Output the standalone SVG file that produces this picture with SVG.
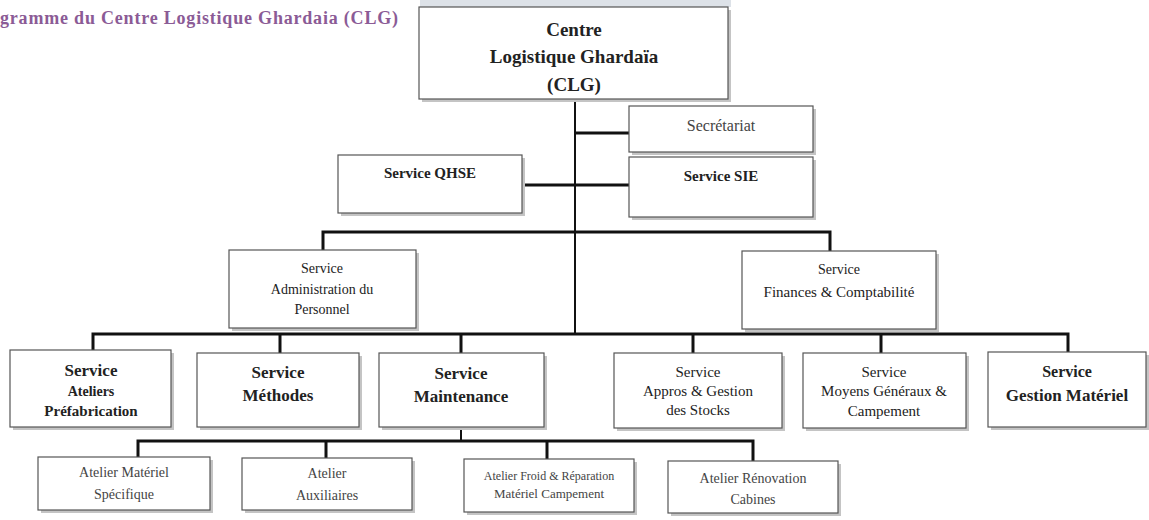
<svg xmlns="http://www.w3.org/2000/svg" width="1149" height="520" viewBox="0 0 1149 520" font-family="'Liberation Serif', 'Times New Roman', serif">
<style>
.box{fill:#fff;stroke:#555;stroke-width:1.2}
.sh{fill:#c4c4c4}
.ln{stroke:#111;stroke-width:3;fill:none}
.tr{stroke:#111;stroke-width:2;fill:none}
text{font-family:"Liberation Serif","Times New Roman",serif;text-anchor:middle;fill:#222}
.b{font-weight:bold}
.t{font-weight:bold;fill:#8b5b96;text-anchor:start;font-size:18px}
.g{fill:#444}
</style>
<rect width="1149" height="520" fill="#fff"/>
<text class="t" x="0" y="24" textLength="398">gramme du Centre Logistique Ghardaia (CLG)</text>
<rect x="420" y="0" width="311" height="7" fill="#dde2e8"/>
<g id="connectors">
<line class="tr" x1="575" y1="99" x2="575" y2="335"/>
<line class="ln" x1="575" y1="133" x2="629" y2="133"/>
<line class="ln" x1="522" y1="185" x2="629" y2="185"/>
<polyline class="ln" points="323,250 323,232 830,232 830,251"/>
<polyline class="ln" points="93,350 93,334 1068,334 1068,352"/>
<line class="ln" x1="280" y1="334" x2="280" y2="353"/>
<line class="ln" x1="461" y1="334" x2="461" y2="353"/>
<line class="ln" x1="693" y1="334" x2="693" y2="353"/>
<line class="ln" x1="881" y1="334" x2="881" y2="353"/>
<line class="tr" x1="461" y1="427" x2="461" y2="441"/>
<polyline class="ln" points="138,457 138,441 753,441 753,461"/>
<line class="ln" x1="326" y1="441" x2="326" y2="458"/>
<line class="ln" x1="547" y1="441" x2="547" y2="459"/>
</g>
<g id="clg"><rect class="sh" x="422" y="10" width="309" height="92"/><rect class="box" x="419" y="7" width="309" height="92"/>
<text class="b" font-size="19" x="574" y="36">Centre</text><text class="b" font-size="19" x="574" y="63">Logistique Ghardaïa</text><text class="b" font-size="19" x="574" y="91">(CLG)</text></g>
<g id="secretariat"><rect class="sh" x="632" y="109" width="184" height="46"/><rect class="box" x="629" y="106" width="184" height="46"/>
<text class="g" font-size="16" x="721" y="131">Secrétariat</text></g>
<g id="sie"><rect class="sh" x="632" y="160" width="184" height="60"/><rect class="box" x="629" y="157" width="184" height="60"/>
<text class="b" font-size="15" x="721" y="181">Service SIE</text></g>
<g id="qhse"><rect class="sh" x="341" y="158" width="184" height="58"/><rect class="box" x="338" y="155" width="184" height="58"/>
<text class="b" font-size="15" x="430" y="178">Service QHSE</text></g>
<g id="admin"><rect class="sh" x="232" y="253" width="187" height="78"/><rect class="box" x="229" y="250" width="187" height="78"/>
<text font-size="14" x="322" y="273">Service</text><text font-size="14" x="322" y="294">Administration du</text><text font-size="14" x="322" y="314">Personnel</text></g>
<g id="finances"><rect class="sh" x="745" y="254" width="194" height="78"/><rect class="box" x="742" y="251" width="194" height="78"/>
<text font-size="14" x="839" y="274">Service</text><text font-size="15" x="839" y="297">Finances &amp; Comptabilité</text></g>
<g id="ateliers"><rect class="sh" x="13" y="353" width="161" height="77"/><rect class="box" x="10" y="350" width="161" height="77"/>
<text class="b" font-size="17" x="91" y="376">Service</text><text class="b" font-size="14" x="91" y="396">Ateliers</text><text class="b" font-size="15" x="91" y="416">Préfabrication</text></g>
<g id="methodes"><rect class="sh" x="200" y="356" width="162" height="74"/><rect class="box" x="197" y="353" width="162" height="74"/>
<text class="b" font-size="17" x="278" y="378">Service</text><text class="b" font-size="17" x="278" y="401">Méthodes</text></g>
<g id="maintenance"><rect class="sh" x="382" y="356" width="165" height="74"/><rect class="box" x="379" y="353" width="165" height="74"/>
<text class="b" font-size="17" x="461" y="379">Service</text><text class="b" font-size="17" x="461" y="402">Maintenance</text></g>
<g id="appros"><rect class="sh" x="617" y="356" width="168" height="75"/><rect class="box" x="614" y="353" width="168" height="75"/>
<text font-size="15" x="698" y="377">Service</text><text font-size="15" x="698" y="396">Appros &amp; Gestion</text><text font-size="15" x="698" y="415">des Stocks</text></g>
<g id="moyens"><rect class="sh" x="806" y="356" width="163" height="75"/><rect class="box" x="803" y="353" width="163" height="75"/>
<text font-size="15" x="884" y="377">Service</text><text font-size="15" x="884" y="396">Moyens Généraux &amp;</text><text font-size="15" x="884" y="416">Campement</text></g>
<g id="gestion"><rect class="sh" x="991" y="355" width="158" height="75"/><rect class="box" x="988" y="352" width="158" height="75"/>
<text class="b" font-size="16" x="1067" y="377">Service</text><text class="b" font-size="17" x="1067" y="401">Gestion Matériel</text></g>
<g id="atelier-materiel"><rect class="sh" x="41" y="460" width="172" height="53"/><rect class="box" x="38" y="457" width="172" height="53"/>
<text class="g" font-size="14" x="124" y="477">Atelier Matériel</text><text class="g" font-size="14" x="124" y="499">Spécifique</text></g>
<g id="atelier-auxiliaires"><rect class="sh" x="245" y="461" width="170" height="52"/><rect class="box" x="242" y="458" width="170" height="52"/>
<text class="g" font-size="14" x="327" y="478">Atelier</text><text class="g" font-size="14" x="327" y="500">Auxiliaires</text></g>
<g id="atelier-froid"><rect class="sh" x="467" y="462" width="170" height="53"/><rect class="box" x="464" y="459" width="170" height="53"/>
<text class="g" font-size="12" x="549" y="480">Atelier Froid &amp; Réparation</text><text class="g" font-size="13" x="549" y="498">Matériel Campement</text></g>
<g id="atelier-renovation"><rect class="sh" x="671" y="464" width="170" height="52"/><rect class="box" x="668" y="461" width="170" height="52"/>
<text class="g" font-size="14" x="753" y="483">Atelier Rénovation</text><text class="g" font-size="14" x="753" y="504">Cabines</text></g>
</svg>
